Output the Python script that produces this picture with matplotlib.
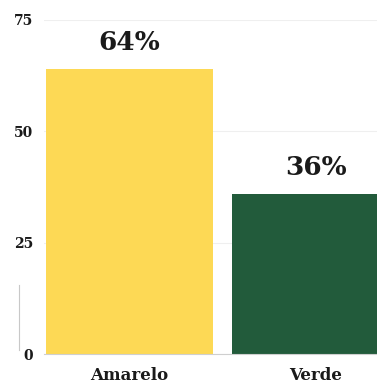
import matplotlib.pyplot as plt
from matplotlib.lines import Line2D

# Chart data
categories = ['Amarelo', 'Verde']
values = [64, 36]
labels = ['64%', '36%']
yticks = [0, 25, 50, 75]
colors = ['#FDD955', '#225B3B']

plt.rcParams['font.family'] = ['DejaVu Serif']

fig = plt.figure(figsize=(3.77, 3.85), dpi=100)
ax = fig.add_axes([0.117, 0.0805, 0.883, 0.868])

x = range(len(categories))
bars = ax.bar(x, values, width=0.9, color=colors, zorder=2)

# value labels above bars
for b, txt in zip(bars, labels):
    ax.text(b.get_x() + b.get_width() / 2, b.get_height() + 3.0, txt,
            ha='center', va='bottom', fontsize=19, fontweight='bold', color='#1a1a1a')

ax.set_ylim(0, 75)
ax.set_xlim(-0.46, 1.33)
ax.set_yticks(yticks)
ax.set_yticklabels([str(t) for t in yticks], fontsize=10, fontweight='bold', color='#1a1a1a')
ax.set_xticks(list(x))
ax.set_xticklabels(categories, fontsize=12, fontweight='bold', color='#1a1a1a')
ax.tick_params(axis='both', length=0)
ax.tick_params(axis='y', pad=8)
ax.tick_params(axis='x', pad=9)

ax.grid(axis='y', color='#efefef', linewidth=0.8, zorder=0)
for s in ['top', 'right', 'left']:
    ax.spines[s].set_visible(False)
ax.spines['bottom'].set_color('#cfcfcf')
ax.spines['bottom'].set_linewidth(0.8)

# faint vertical stroke at the lower left
fig.add_artist(Line2D([0.05, 0.05], [0.09, 0.26], color='#c8c8c8', linewidth=0.8))

fig.savefig('out.png', dpi=100)
